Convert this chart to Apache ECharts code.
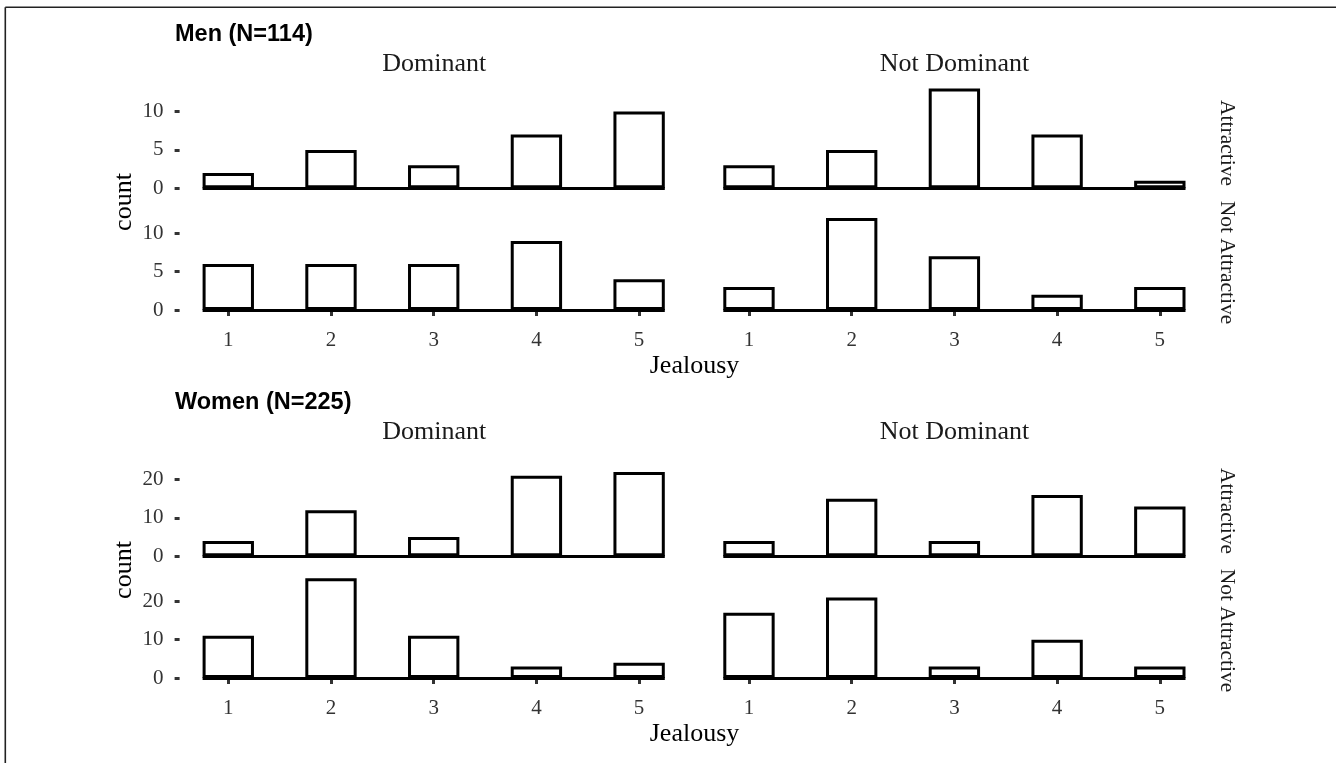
<!DOCTYPE html>
<html>
<head>
<meta charset="utf-8">
<script src="https://cdn.jsdelivr.net/npm/echarts@6/dist/echarts.min.js"></script>
<style>
html,body{margin:0;padding:0;background:#fff;}
#chart{width:1336px;height:763px;}
</style>
</head>
<body>
<div id="chart"></div>
<script>
// ---- data ----
const jealousy = ['1', '2', '3', '4', '5'];
const menDomAttr = [2, 5, 3, 7, 10];
const menNotDomAttr = [3, 5, 13, 7, 1];
const menDomNotAttr = [6, 6, 6, 9, 4];
const menNotDomNotAttr = [3, 12, 7, 2, 3];
const womenDomAttr = [4, 12, 5, 21, 22];
const womenNotDomAttr = [4, 15, 4, 16, 13];
const womenDomNotAttr = [11, 26, 11, 3, 4];
const womenNotDomNotAttr = [17, 21, 3, 10, 3];
const menTicks = [0, 5, 10];
const womenTicks = [0, 10, 20];
const menMax = 13.65;
const womenMax = 27.3;
const colHeaders = ['Dominant', 'Not Dominant'];
const rowStrips = ['Attractive', 'Not Attractive'];
const groupTitles = ['Men (N=114)', 'Women (N=225)'];
const xTitle = 'Jealousy';
const yTitle = 'count';

// categories with half-step gaps (histogram bins of width 0.5)
const cats = [];
jealousy.forEach((j, i) => { cats.push(j); if (i < jealousy.length - 1) cats.push(' '); });
function withGaps(arr) {
  const out = [];
  arr.forEach((v, i) => { out.push(v); if (i < arr.length - 1) out.push(null); });
  return out;
}

const SERIF = 'Liberation Serif';
const SANS = 'Liberation Sans';
const colLeft = [202.6, 723.3];
const gridW = 462.2;
const gridH = 104.7;
const groupOffset = 368;
const baselines = [188.3, 310]; // men rows; women = + offset

const panels = [
  {g: 0, r: 0, c: 0, data: menDomAttr},
  {g: 0, r: 0, c: 1, data: menNotDomAttr},
  {g: 0, r: 1, c: 0, data: menDomNotAttr},
  {g: 0, r: 1, c: 1, data: menNotDomNotAttr},
  {g: 1, r: 0, c: 0, data: womenDomAttr},
  {g: 1, r: 0, c: 1, data: womenNotDomAttr},
  {g: 1, r: 1, c: 0, data: womenDomNotAttr},
  {g: 1, r: 1, c: 1, data: womenNotDomNotAttr}
];

const grid = [], xAxis = [], yAxis = [], series = [];
panels.forEach((p, i) => {
  const base = baselines[p.r] + p.g * groupOffset;
  grid.push({left: colLeft[p.c], top: base - gridH, width: gridW, height: gridH, containLabel: false});
  const bottomRow = p.r === 1;
  xAxis.push({
    gridIndex: i, type: 'category', data: cats, boundaryGap: true, offset: 5,
    axisLine: {show: false},
    axisTick: {show: bottomRow, alignWithLabel: true, interval: (idx) => idx % 2 === 0, length: 6,
               lineStyle: {color: '#333333', width: 3}},
    axisLabel: {show: bottomRow, interval: (idx) => idx % 2 === 0, margin: 15,
                fontFamily: SERIF, fontSize: 21, color: '#333333'},
    splitLine: {show: false}
  });
  const ticks = p.g === 0 ? menTicks : womenTicks;
  const leftCol = p.c === 0;
  yAxis.push({
    gridIndex: i, type: 'value', min: 0, max: p.g === 0 ? menMax : womenMax, offset: 23,
    axisLine: {show: false},
    axisTick: {show: leftCol, length: 5, customValues: ticks, lineStyle: {color: '#333333', width: 3}},
    axisLabel: {show: leftCol, customValues: ticks, margin: 16, fontFamily: SERIF, fontSize: 21, color: '#333333'},
    splitLine: {show: false}
  });
  series.push({
    type: 'bar', xAxisIndex: i, yAxisIndex: i, data: withGaps(p.data),
    barCategoryGap: '0%', barGap: '0%',
    itemStyle: {color: '#ffffff', borderColor: '#000000', borderWidth: 3},
    markLine: {silent: true, symbol: ['none', 'none'], label: {show: false},
               lineStyle: {color: '#000000', width: 3, type: 'solid'}, data: [{yAxis: 0}]}
  });
});

const graphic = [
  {type: 'line', shape: {x1: 5.3, y1: 7.3, x2: 1336, y2: 7.3}, style: {stroke: '#222', lineWidth: 1.6}},
  {type: 'line', shape: {x1: 5.3, y1: 7.3, x2: 5.3, y2: 763}, style: {stroke: '#222', lineWidth: 1.6}}
];
[0, 1].forEach(g => {
  const dy = g * groupOffset;
  graphic.push({type: 'text', x: 175, y: 35 + dy,
    style: {text: groupTitles[g], font: 'bold 23.5px ' + SANS, fill: '#000', textAlign: 'left', textVerticalAlign: 'middle'}});
  graphic.push({type: 'text', x: 434.2, y: 63.7 + dy,
    style: {text: colHeaders[0], font: '26px ' + SERIF, fill: '#1A1A1A', textAlign: 'center', textVerticalAlign: 'middle'}});
  graphic.push({type: 'text', x: 954.5, y: 63.7 + dy,
    style: {text: colHeaders[1], font: '26px ' + SERIF, fill: '#1A1A1A', textAlign: 'center', textVerticalAlign: 'middle'}});
  graphic.push({type: 'text', x: 1227, y: 143 + dy, rotation: -Math.PI / 2,
    style: {text: rowStrips[0], font: '21.5px ' + SERIF, fill: '#1A1A1A', textAlign: 'center', textVerticalAlign: 'middle'}});
  graphic.push({type: 'text', x: 1227, y: 262.5 + dy, rotation: -Math.PI / 2,
    style: {text: rowStrips[1], font: '21.5px ' + SERIF, fill: '#1A1A1A', textAlign: 'center', textVerticalAlign: 'middle'}});
  graphic.push({type: 'text', x: 124, y: 202 + dy, rotation: Math.PI / 2,
    style: {text: yTitle, font: '26px ' + SERIF, fill: '#000', textAlign: 'center', textVerticalAlign: 'middle'}});
  graphic.push({type: 'text', x: 694.5, y: 366 + dy,
    style: {text: xTitle, font: '26px ' + SERIF, fill: '#000', textAlign: 'center', textVerticalAlign: 'middle'}});
});

const chart = echarts.init(document.getElementById('chart'), null, {renderer: 'canvas'});
chart.setOption({
  animation: false,
  backgroundColor: '#ffffff',
  grid, xAxis, yAxis, series, graphic
});
</script>
</body>
</html>
